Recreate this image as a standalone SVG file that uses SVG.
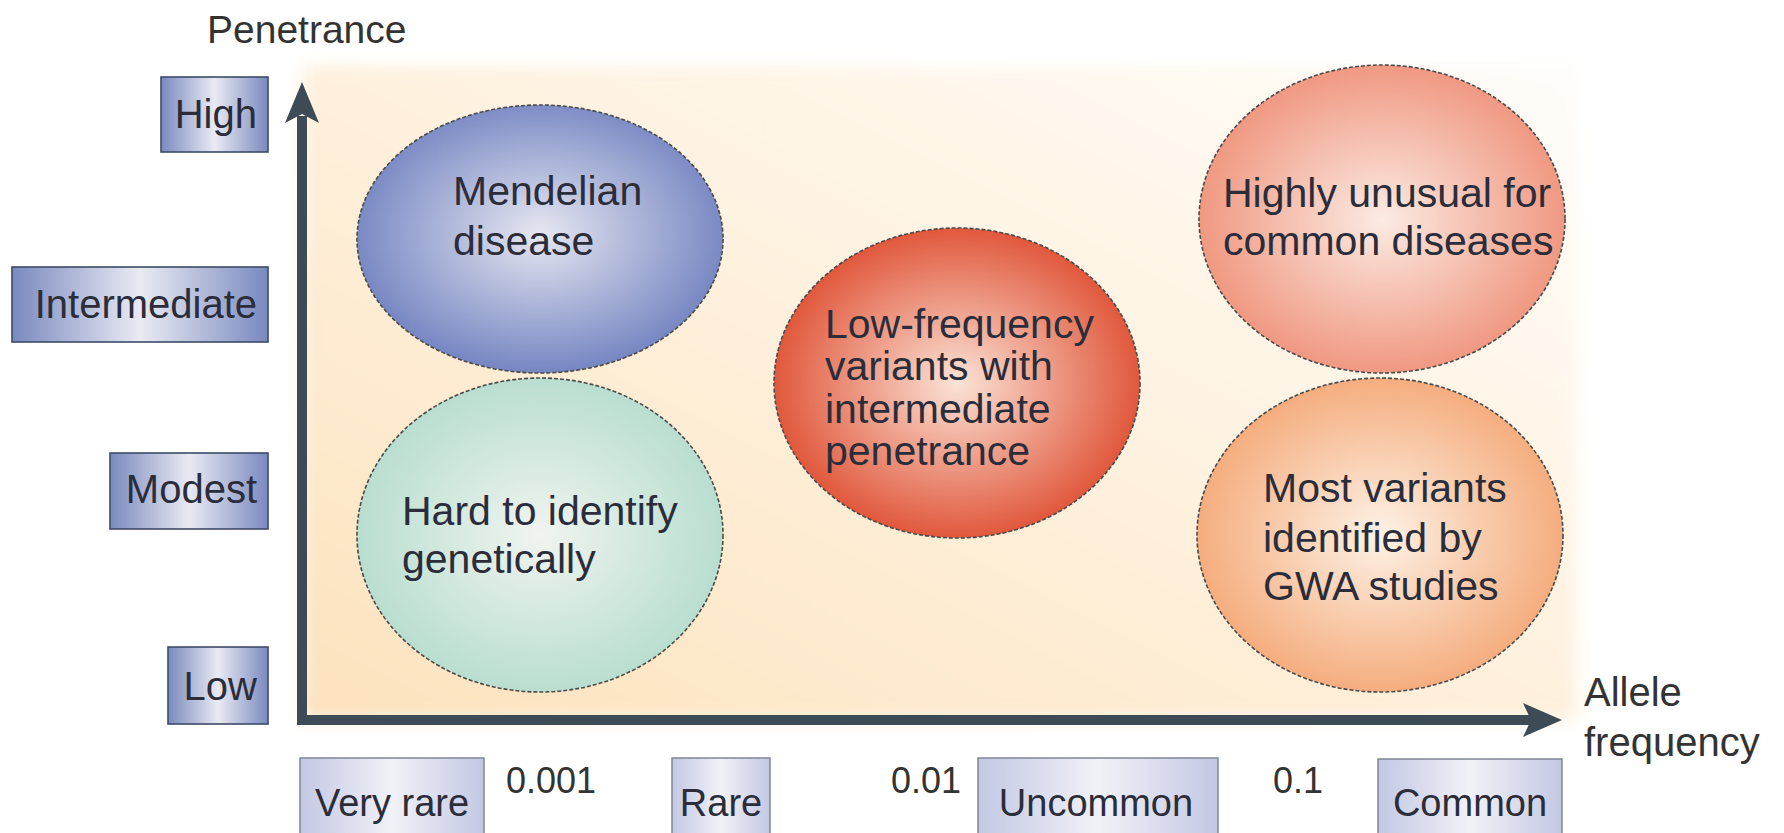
<svg xmlns="http://www.w3.org/2000/svg" width="1784" height="833" viewBox="0 0 1784 833">
<style>
  text { font-family: "Liberation Sans", Arial, sans-serif; fill: #2b2d3a; }
  .lab { font-size: 40px; }
  .yl { font-size: 40px; text-anchor: end; }
  .xl { font-size: 38px; text-anchor: middle; }
  .num { font-size: 36px; text-anchor: middle; fill: #333; }
  .el { font-size: 41px; }
  .ybox { fill: url(#gBlue); stroke: #3e4a68; stroke-width: 1.6; }
  .xbox { fill: url(#gLav); stroke: #7a7f90; stroke-width: 1.4; }
  .ell { stroke: #4a4a4a; stroke-width: 1.6; stroke-dasharray: 4 2; }
  .axis { fill: none; stroke: #3c4b56; stroke-width: 10; stroke-linejoin: miter; }
  .head { fill: #3c4b56; }
</style>
<defs>
  <linearGradient id="gBlue" x1="0" y1="0" x2="1" y2="0">
    <stop offset="0" stop-color="#7a8abf"/>
    <stop offset="0.5" stop-color="#e9eaf3"/>
    <stop offset="1" stop-color="#7a8abf"/>
  </linearGradient>
  <linearGradient id="gLav" x1="0" y1="0" x2="1" y2="0">
    <stop offset="0" stop-color="#c3c8e4"/>
    <stop offset="0.5" stop-color="#f1f1f7"/>
    <stop offset="1" stop-color="#c3c8e4"/>
  </linearGradient>
  <linearGradient id="gPanel" x1="0" y1="1" x2="1" y2="0">
    <stop offset="0" stop-color="#fde2bd"/>
    <stop offset="0.55" stop-color="#fef2e0"/>
    <stop offset="1" stop-color="#fffdfa"/>
  </linearGradient>
  <radialGradient id="rBlue" cx="0.5" cy="0.48" r="0.55">
    <stop offset="0" stop-color="#e6e7f1"/>
    <stop offset="1" stop-color="#6f80bf"/>
  </radialGradient>
  <radialGradient id="rGreen" cx="0.5" cy="0.5" r="0.55">
    <stop offset="0" stop-color="#f1f4f1"/>
    <stop offset="1" stop-color="#b3dccc"/>
  </radialGradient>
  <radialGradient id="rRed" cx="0.5" cy="0.5" r="0.55">
    <stop offset="0" stop-color="#fbe3d6"/>
    <stop offset="1" stop-color="#de4a2d"/>
  </radialGradient>
  <radialGradient id="rPink" cx="0.5" cy="0.5" r="0.55">
    <stop offset="0" stop-color="#fbebe3"/>
    <stop offset="1" stop-color="#ef9078"/>
  </radialGradient>
  <radialGradient id="rOrange" cx="0.5" cy="0.5" r="0.55">
    <stop offset="0" stop-color="#fdf2e6"/>
    <stop offset="1" stop-color="#f4a674"/>
  </radialGradient>
  <filter id="soft" x="-0.05" y="-0.05" width="1.1" height="1.1">
    <feGaussianBlur stdDeviation="8"/>
  </filter>
</defs>

<rect width="1784" height="833" fill="#ffffff"/>
<rect id="panel" x="302" y="66" width="1275" height="654" fill="url(#gPanel)" filter="url(#soft)"/>

<text id="y-title" x="207" y="43" style="font-size:39px;fill:#333">Penetrance</text>
<g id="x-title">
  <text x="1584" y="706" style="font-size:40px;fill:#333">Allele</text>
  <text x="1584" y="756" style="font-size:40px;fill:#333">frequency</text>
</g>

<!-- Penetrance level boxes -->
<g id="box-high"><rect class="ybox" x="161" y="77" width="107" height="75"/><text class="yl" x="257" y="128">High</text></g>
<g id="box-intermediate"><rect class="ybox" x="12" y="267" width="256" height="75"/><text class="yl" x="257" y="318">Intermediate</text></g>
<g id="box-modest"><rect class="ybox" x="110" y="453" width="158" height="76"/><text class="yl" x="257" y="503">Modest</text></g>
<g id="box-low"><rect class="ybox" x="168" y="647" width="100" height="77"/><text class="yl" x="257" y="700">Low</text></g>

<!-- Allele frequency boxes -->
<g id="box-veryrare"><rect class="xbox" x="300" y="758" width="184" height="80"/><text class="xl" x="392" y="816">Very rare</text></g>
<g id="box-rare"><rect class="xbox" x="672" y="758" width="98" height="80"/><text class="xl" x="721" y="816">Rare</text></g>
<g id="box-uncommon"><rect class="xbox" x="978" y="758" width="240" height="80"/><text class="xl" x="1096" y="816">Uncommon</text></g>
<g id="box-common"><rect class="xbox" x="1378" y="759" width="184" height="80"/><text class="xl" x="1470" y="816">Common</text></g>

<g id="ticks">
  <text class="num" x="551" y="793">0.001</text>
  <text class="num" x="926" y="793">0.01</text>
  <text class="num" x="1298" y="793">0.1</text>
</g>

<!-- Ellipse nodes -->
<g id="node-mendelian">
  <ellipse class="ell" cx="540" cy="239" rx="183" ry="134" fill="url(#rBlue)"/>
  <text class="el" x="453" y="205">Mendelian</text>
  <text class="el" x="453" y="255">disease</text>
</g>
<g id="node-hard">
  <ellipse class="ell" cx="540" cy="535" rx="183" ry="157" fill="url(#rGreen)"/>
  <text class="el" x="402" y="525">Hard to identify</text>
  <text class="el" x="402" y="573">genetically</text>
</g>
<g id="node-lowfreq">
  <ellipse class="ell" cx="957" cy="383" rx="183" ry="155" fill="url(#rRed)"/>
  <text class="el" x="825" y="338">Low-frequency</text>
  <text class="el" x="825" y="380">variants with</text>
  <text class="el" x="825" y="423">intermediate</text>
  <text class="el" x="825" y="465">penetrance</text>
</g>
<g id="node-unusual">
  <ellipse class="ell" cx="1382" cy="219" rx="183" ry="154" fill="url(#rPink)"/>
  <text class="el" x="1223" y="207">Highly unusual for</text>
  <text class="el" x="1223" y="255">common diseases</text>
</g>
<g id="node-gwa">
  <ellipse class="ell" cx="1380" cy="535" rx="183" ry="157" fill="url(#rOrange)"/>
  <text class="el" x="1263" y="502">Most variants</text>
  <text class="el" x="1263" y="552">identified by</text>
  <text class="el" x="1263" y="600">GWA studies</text>
</g>

<!-- Axes -->
<g id="connectors">
  <path class="axis" d="M302 116 L302 720 L1532 720"/>
  <polygon class="head" points="302,82 319,123 302,114 285,123"/>
  <polygon class="head" points="1562,720 1523,703 1531,720 1523,737"/>
</g>
</svg>
